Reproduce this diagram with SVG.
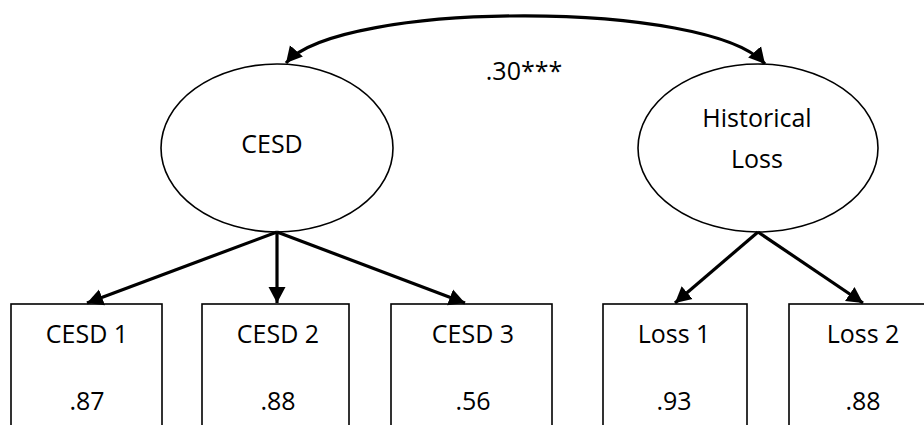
<svg xmlns="http://www.w3.org/2000/svg" width="924" height="425" viewBox="0 0 924 425">
<style>
text{font-family:"Open Sans","Noto Sans","DejaVu Sans",sans-serif;font-size:25px;fill:#000;text-anchor:middle}
.node{fill:#fff;stroke:#000;stroke-width:1.6}
.conn{fill:none;stroke:#000;stroke-width:3.2}
</style>
<defs>
<marker id="ah" markerUnits="userSpaceOnUse" markerWidth="17" markerHeight="18" refX="16" refY="8.5" orient="auto-start-reverse" viewBox="0 0 17 17">
<path d="M0,0 L16,8.5 L0,17 Z" fill="#000"/>
</marker>
</defs>
<rect width="924" height="425" fill="#fff"/>
<g id="cesd">
<ellipse class="node" cx="277" cy="148" rx="116" ry="84"/>
<text x="272" y="153">CESD</text>
</g>
<g id="historical-loss">
<ellipse class="node" cx="758" cy="148" rx="120" ry="84"/>
<text x="757" y="127">Historical</text>
<text x="757" y="168">Loss</text>
</g>
<g id="cesd1">
<rect class="node" x="11" y="304" width="151" height="140"/>
<text x="87" y="343">CESD 1</text>
<text x="87" y="410">.87</text>
</g>
<g id="cesd2">
<rect class="node" x="202" y="304" width="147" height="140"/>
<text x="278" y="343">CESD 2</text>
<text x="278" y="410">.88</text>
</g>
<g id="cesd3">
<rect class="node" x="391" y="304" width="161" height="140"/>
<text x="473" y="343">CESD 3</text>
<text x="473" y="410">.56</text>
</g>
<g id="loss1">
<rect class="node" x="603" y="304" width="144" height="140"/>
<text x="674" y="343">Loss 1</text>
<text x="674" y="410">.93</text>
</g>
<g id="loss2">
<rect class="node" x="789" y="304" width="145" height="140"/>
<text x="863" y="343">Loss 2</text>
<text x="863" y="410">.88</text>
</g>
<g id="connectors">
<path class="conn" d="M286,63 C340,0 710,0 765,64" marker-start="url(#ah)" marker-end="url(#ah)"/>
<line class="conn" x1="277" y1="232" x2="87" y2="303" marker-end="url(#ah)"/>
<line class="conn" x1="277" y1="232" x2="277" y2="303" marker-end="url(#ah)"/>
<line class="conn" x1="277" y1="232" x2="465" y2="303" marker-end="url(#ah)"/>
<line class="conn" x1="758" y1="232" x2="675" y2="303" marker-end="url(#ah)"/>
<line class="conn" x1="758" y1="232" x2="863" y2="303" marker-end="url(#ah)"/>
<text x="524" y="80">.30***</text>
</g>
</svg>
